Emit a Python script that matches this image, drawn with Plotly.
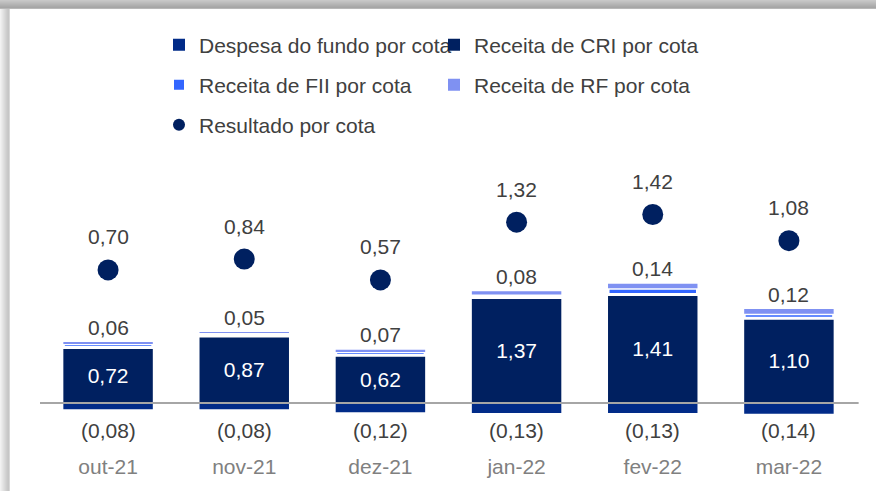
import plotly.graph_objects as go

categories = ["out-21", "nov-21", "dez-21", "jan-22", "fev-22", "mar-22"]
despesa = [-0.08, -0.08, -0.12, -0.13, -0.13, -0.14]
receita_cri = [0.72, 0.87, 0.62, 1.37, 1.41, 1.10]
receita_fii = [0.05, 0.04, 0.05, 0.04, 0.08, 0.06]
receita_rf = [0.01, 0.01, 0.02, 0.04, 0.06, 0.06]
resultado = [0.70, 0.84, 0.57, 1.32, 1.42, 1.08]
series_names = ["Despesa do fundo por cota", "Receita de CRI por cota",
                "Receita de FII por cota", "Receita de RF por cota", "Resultado por cota"]

FONT = "Liberation Sans, Arial, sans-serif"
C_DESP = "#012B88"
C_CRI = "#002060"
C_FII = "#3366FF"
C_RF = "#7F91F2"
C_RES = "#002060"
TXT = "#404040"


def fmt(v):
    s = f"{abs(v):.2f}".replace(".", ",")
    return f"({s})" if v < 0 else s


# layout geometry (pixels)
W, H = 876, 491
L, R, T, B = 40, 19, 150, 39
PW, PH = W - L - R, H - T - B
ZERO1, ZERO2, SCALE = 403, 323.8, 77.0
y1_range = [-(H - B - ZERO1) / SCALE, (ZERO1 - T) / SCALE]
y2_range = [-(H - B - ZERO2) / SCALE, (ZERO2 - T) / SCALE]


def px_x(px):
    return (px - L) / PW


def px_y(py):
    return (H - B - py) / PH


fig = go.Figure()
fig.add_trace(go.Bar(x=categories, y=despesa, name=series_names[0], marker_color=C_DESP,
                     marker_line_width=0, legend="legend", textposition="none"))
fig.add_trace(go.Bar(x=categories, y=receita_cri, name=series_names[1], marker_color=C_CRI,
                     marker_line_width=0, legend="legend",
                     text=[fmt(v) for v in receita_cri], textposition="inside",
                     insidetextanchor="middle", textangle=0, constraintext="none",
                     textfont=dict(color="white", size=21, family=FONT)))
fig.add_trace(go.Bar(x=categories, y=receita_fii, name=series_names[2], marker_color=C_FII,
                     marker_line=dict(color="white", width=3), legend="legend2",
                     textposition="none"))
fig.add_trace(go.Bar(x=categories, y=receita_rf, name=series_names[3], marker_color=C_RF,
                     marker_line_width=0, legend="legend2", textposition="none"))
fig.add_trace(go.Scatter(x=categories, y=resultado, name=series_names[4], mode="markers",
                         marker=dict(color=C_RES, size=21), yaxis="y2", legend="legend3"))

ann = []
for c, d, cri, fii, rf, res in zip(categories, despesa, receita_cri, receita_fii, receita_rf, resultado):
    ann.append(dict(x=c, y=res, yref="y2", text=fmt(res), yshift=33, showarrow=False,
                    font=dict(size=21, color=TXT, family=FONT)))
    ann.append(dict(x=c, y=cri + fii + rf, yref="y", text=fmt(round(fii + rf, 2)), yshift=15,
                    showarrow=False, font=dict(size=21, color=TXT, family=FONT)))
    ann.append(dict(x=c, y=0, yref="y", text=fmt(d), yshift=-27, showarrow=False,
                    font=dict(size=21, color=TXT, family=FONT)))

shapes = [dict(type="line", xref="paper", yref="y", x0=0, x1=1.002, y0=0, y1=0,
               line=dict(color="#A6A6A6", width=2), layer="above")]
# frame shadow (top and left)
top_cols = ["#c8c8c8", "#c3c3c3", "#bebebe", "#b9b9b9", "#b4b4b4", "#afafaf", "#aaaaaa", "#a6a6a6", "#b8b8b8"]
for i, col in enumerate(top_cols):
    shapes.append(dict(type="rect", xref="paper", yref="paper", x0=px_x(0), x1=px_x(W),
                       y0=px_y(i + 1), y1=px_y(i), fillcolor=col, line_width=0, layer="above"))
left_cols = ["#f2f2f2", "#ececec", "#e6e6e6", "#e0e0e0", "#dadada", "#d4d4d4", "#cecece", "#c9c9c9", "#c6c6c6", "#d8d8d8"]
for i, col in enumerate(left_cols):
    shapes.append(dict(type="rect", xref="paper", yref="paper", x0=px_x(i), x1=px_x(i + 1),
                       y0=px_y(H), y1=px_y(9), fillcolor=col, line_width=0, layer="above"))

leg_common = dict(orientation="h", xanchor="left", yanchor="middle", entrywidth=230,
                  font=dict(size=21, color=TXT, family=FONT), bgcolor="rgba(0,0,0,0)",
                  itemsizing="constant", traceorder="normal")
LEGX = px_x(159)
fig.update_layout(
    width=W, height=H,
    margin=dict(l=L, r=R, t=T, b=B, autoexpand=False),
    paper_bgcolor="white", plot_bgcolor="white",
    barmode="relative", bargap=0.343,
    font=dict(family=FONT, size=21, color=TXT),
    showlegend=True,
    legend=dict(x=LEGX, y=px_y(45), **leg_common),
    legend2=dict(x=LEGX, y=px_y(85), **leg_common),
    legend3=dict(x=LEGX, y=px_y(125), **leg_common),
    xaxis=dict(showgrid=False, showline=False, zeroline=False, ticks="",
               tickfont=dict(size=21, color="#808080", family=FONT), automargin=False),
    yaxis=dict(range=y1_range, visible=False, fixedrange=True),
    yaxis2=dict(range=y2_range, overlaying="y", visible=False, fixedrange=True),
    annotations=ann, shapes=shapes,
)
fig.write_html("out.html", config={"displayModeBar": False},
               post_script="document.body.style.margin='0';")
